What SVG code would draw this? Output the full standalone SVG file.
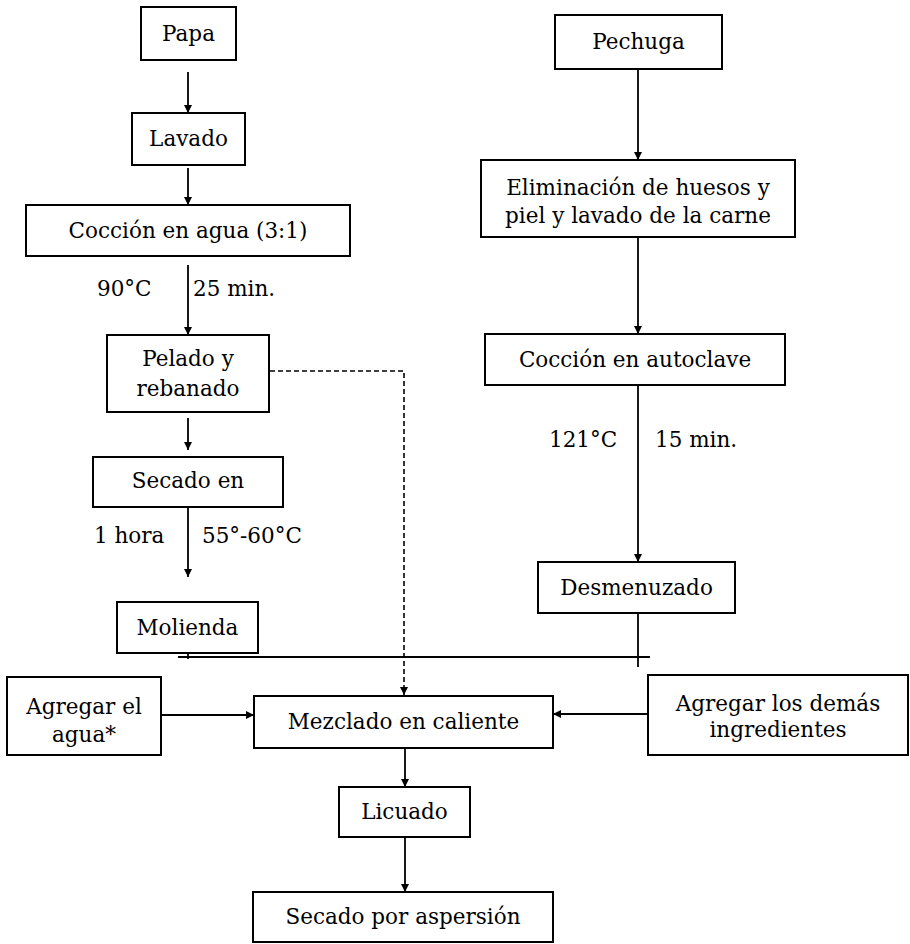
<svg xmlns="http://www.w3.org/2000/svg" width="910" height="944" viewBox="0 0 910 944">
<style>
.box{fill:#fff;stroke:#000;stroke-width:2}
.t{font-family:"DejaVu Serif","Liberation Serif",serif;font-size:21.5px;fill:#000;text-anchor:middle}
.l{font-family:"DejaVu Serif","Liberation Serif",serif;font-size:21.5px;fill:#000}
.c{fill:none;stroke:#000;stroke-width:1.8}
.d{fill:none;stroke:#000;stroke-width:1.6;stroke-dasharray:5 3}
</style>
<defs>
<marker id="ah" viewBox="0 0 10 10" refX="10" refY="5" markerWidth="9" markerHeight="8" markerUnits="userSpaceOnUse" orient="auto">
<path d="M0,0 L10,5 L0,10 z" fill="#000"/>
</marker>
</defs>
<rect width="910" height="944" fill="#fff"/>
<g id="connectors">
<line class="c" x1="188" y1="72" x2="188" y2="113" marker-end="url(#ah)"/>
<line class="c" x1="188" y1="168" x2="188" y2="205" marker-end="url(#ah)"/>
<line class="c" x1="188" y1="265" x2="188" y2="335" marker-end="url(#ah)"/>
<line class="c" x1="188" y1="418" x2="188" y2="450" marker-end="url(#ah)"/>
<line class="c" x1="188" y1="497" x2="188" y2="577" marker-end="url(#ah)"/>
<line class="c" x1="188" y1="625" x2="188" y2="659"/>
<line class="c" x1="178" y1="657" x2="650" y2="657"/>
<line class="c" x1="638" y1="590" x2="638" y2="667"/>
<polyline class="d" points="270,371 404,371 404,695" marker-end="url(#ah)"/>
<line class="c" x1="638" y1="69" x2="638" y2="160" marker-end="url(#ah)"/>
<line class="c" x1="638" y1="237" x2="638" y2="334" marker-end="url(#ah)"/>
<line class="c" x1="638" y1="386" x2="638" y2="562" marker-end="url(#ah)"/>
<line class="c" x1="161" y1="715" x2="254" y2="715" marker-end="url(#ah)"/>
<line class="c" x1="648" y1="714" x2="553" y2="714" marker-end="url(#ah)"/>
<line class="c" x1="405" y1="748" x2="405" y2="787" marker-end="url(#ah)"/>
<line class="c" x1="405" y1="837" x2="405" y2="892" marker-end="url(#ah)"/>
</g>
<g id="papa"><rect class="box" x="141" y="7" width="95" height="53"/><text class="t" x="188.5" y="41">Papa</text></g>
<g id="lavado"><rect class="box" x="132" y="113" width="113" height="52"/><text class="t" x="188.5" y="146">Lavado</text></g>
<g id="coccion-agua"><rect class="box" x="26" y="205" width="324" height="51"/><text class="t" x="188" y="238">Cocción en agua (3:1)</text></g>
<g id="label-90"><text class="l" x="97" y="296">90°C</text><text class="l" x="193" y="296">25 min.</text></g>
<g id="pelado"><rect class="box" x="107" y="335" width="162" height="77"/><text class="t" x="188" y="366">Pelado y</text><text class="t" x="188" y="396">rebanado</text></g>
<g id="secado-en"><rect class="box" x="93" y="457" width="190" height="50"/><text class="t" x="188" y="488">Secado en</text></g>
<g id="label-1hora"><text class="l" x="94" y="543">1 hora</text><text class="l" x="202" y="543">55°-60°C</text></g>
<g id="molienda"><rect class="box" x="117" y="602" width="141" height="51"/><text class="t" x="187.5" y="635">Molienda</text></g>
<g id="pechuga"><rect class="box" x="555" y="15" width="167" height="54"/><text class="t" x="638.5" y="49">Pechuga</text></g>
<g id="eliminacion"><rect class="box" x="481" y="160" width="314" height="77"/><text class="t" x="638" y="195">Eliminación de huesos y</text><text class="t" x="638" y="223">piel y lavado de la carne</text></g>
<g id="coccion-autoclave"><rect class="box" x="485" y="334" width="300" height="51"/><text class="t" x="635" y="367">Cocción en autoclave</text></g>
<g id="label-121"><text class="l" x="549" y="447">121°C</text><text class="l" x="655" y="447">15 min.</text></g>
<g id="desmenuzado"><rect class="box" x="538" y="562" width="197" height="51"/><text class="t" x="636.5" y="595">Desmenuzado</text></g>
<g id="agregar-agua"><rect class="box" x="7" y="677" width="154" height="78"/><text class="t" x="84" y="714">Agregar el</text><text class="t" x="84" y="742">agua*</text></g>
<g id="mezclado"><rect class="box" x="254" y="696" width="299" height="52"/><text class="t" x="403.5" y="729">Mezclado en caliente</text></g>
<g id="agregar-demas"><rect class="box" x="648" y="675" width="260" height="80"/><text class="t" x="778" y="711">Agregar los demás</text><text class="t" x="778" y="737">ingredientes</text></g>
<g id="licuado"><rect class="box" x="339" y="787" width="131" height="50"/><text class="t" x="404.5" y="819">Licuado</text></g>
<g id="secado-aspersion"><rect class="box" x="253" y="892" width="300" height="50"/><text class="t" x="403" y="924">Secado por aspersión</text></g>
</svg>
